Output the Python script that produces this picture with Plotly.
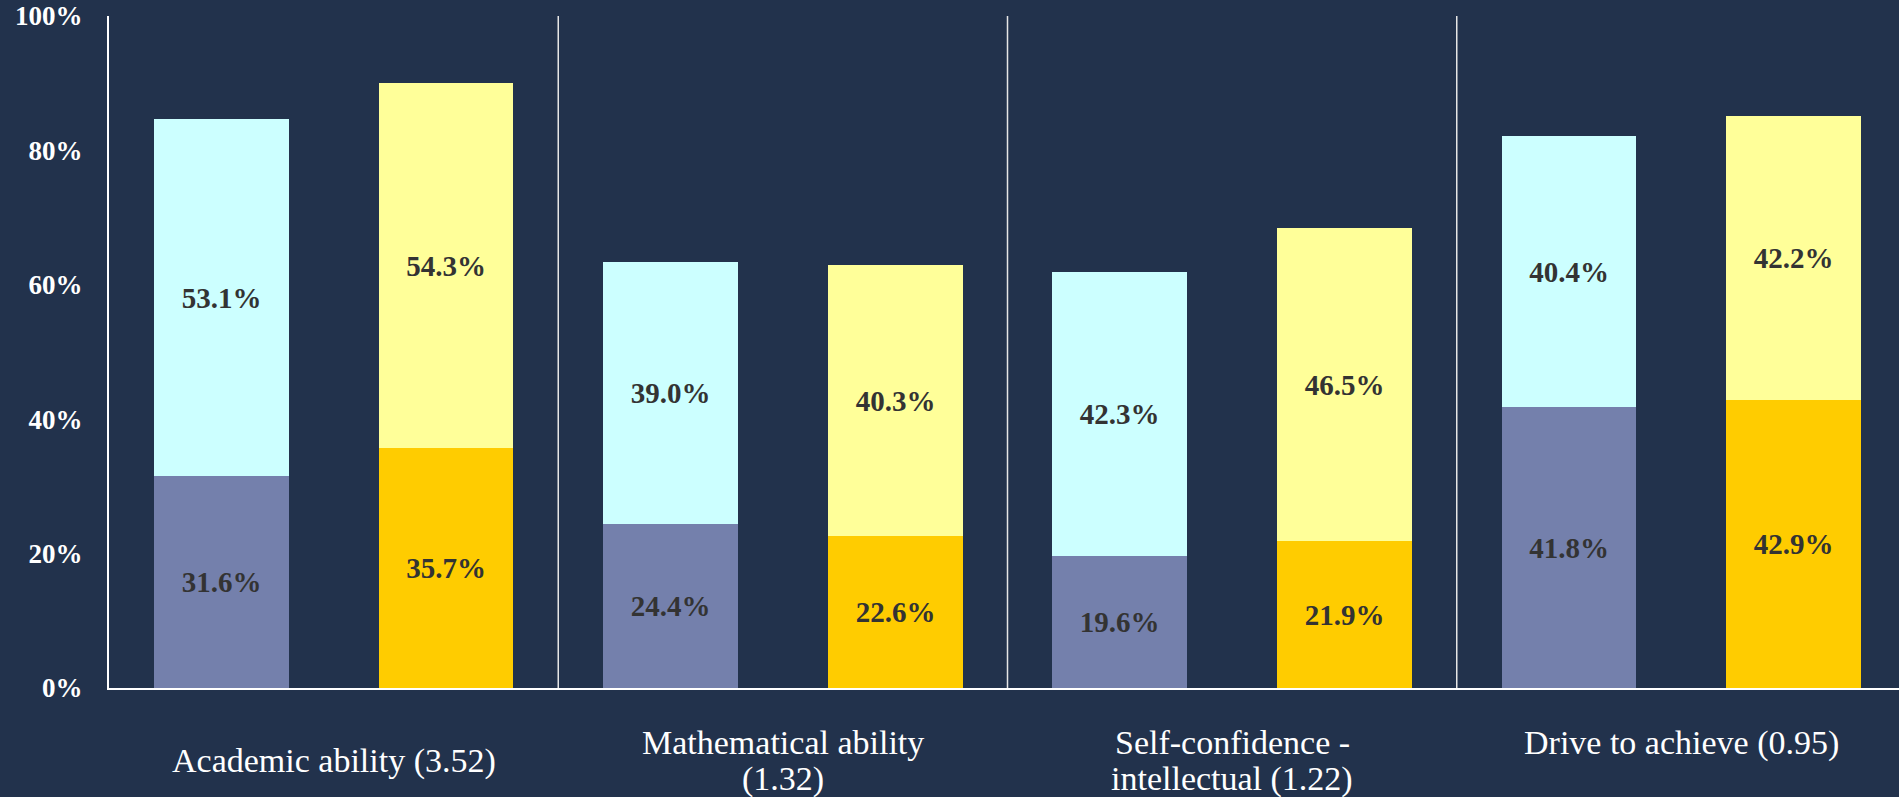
import plotly.graph_objects as go

categories = ["Academic ability (3.52)", "Mathematical ability<br>(1.32)",
              "Self-confidence -<br>intellectual (1.22)", "Drive to achieve (0.95)<br>"]
group_a_bottom = [31.6, 24.4, 19.6, 41.8]
group_a_top = [53.1, 39.0, 42.3, 40.4]
group_b_bottom = [35.7, 22.6, 21.9, 42.9]
group_b_top = [54.3, 40.3, 46.5, 42.2]
y_ticks = [0, 20, 40, 60, 80, 100]
y_tick_labels = ["0%", "20%", "40%", "60%", "80%", "100%"]

BG = "#22324C"
FONT = "Liberation Serif"

n = len(categories)
xa = [2 * i + 0.5 for i in range(n)]
xb = [2 * i + 1.5 for i in range(n)]

fig = go.Figure()
label_font = dict(family=FONT, size=29, color="#333333", weight="bold")

def add(x, y, color):
    fig.add_trace(go.Bar(
        x=x, y=y, width=0.6, marker=dict(color=color, line=dict(width=0)),
        texttemplate="%{y:.1f}%", textposition="inside", insidetextanchor="middle",
        textfont=label_font, textangle=0, showlegend=False, hoverinfo="skip"))

add(xa, group_a_bottom, "#7480AC")
add(xa, group_a_top, "#CCFFFF")
add(xb, group_b_bottom, "#FFCC00")
add(xb, group_b_top, "#FFFF99")

# separators between categories
for i in range(1, n):
    fig.add_shape(type="line", xref="x", yref="paper", x0=2 * i, x1=2 * i, y0=0, y1=1,
                  line=dict(color="#E6E6E6", width=1.5), layer="above")

LINE_GAP = 36
for i, c in enumerate(categories):
    lines = c.split("<br>")
    k = len(lines)
    for j, ln in enumerate(lines):
        if not ln:
            continue
        fig.add_annotation(x=2 * i + 1, xref="x", y=-0.1086, yref="paper", text=ln,
                           showarrow=False, yanchor="middle", xanchor="center",
                           yshift=-(j - (k - 1) / 2) * LINE_GAP,
                           font=dict(family=FONT, size=34, color="white"))

fig.update_layout(
    width=1899, height=797, barmode="stack", bargap=0,
    paper_bgcolor=BG, plot_bgcolor=BG,
    margin=dict(l=109, r=0, t=16, b=109, autoexpand=False),
    xaxis=dict(range=[0, 2 * n * 1790 / 1797], showticklabels=False, showgrid=False,
               zeroline=False, showline=True, linecolor="white", linewidth=2, fixedrange=True),
    yaxis=dict(range=[0, 100], tickvals=y_ticks, ticktext=y_tick_labels, showgrid=False,
               zeroline=False, showline=True, linecolor="white", linewidth=2,
               ticks="", ticklabelstandoff=19, fixedrange=True,
               tickfont=dict(family=FONT, size=27, color="white", weight="bold")),
)

fig.write_html("out.html", config={"displayModeBar": False},
               post_script="document.body.style.margin='0';document.body.style.overflow='hidden';")
